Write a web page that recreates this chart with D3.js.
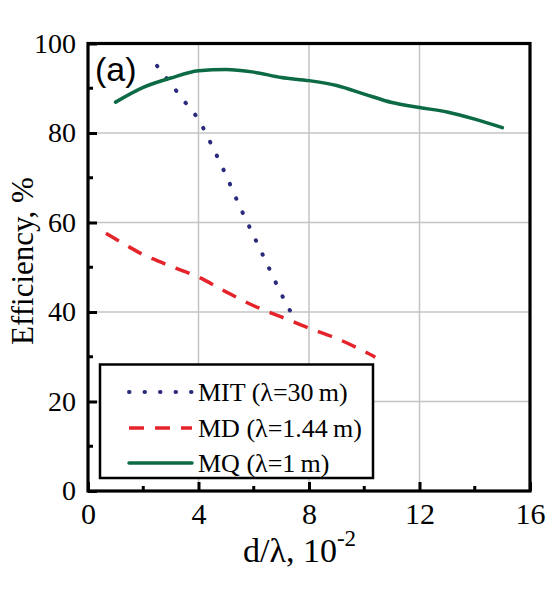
<!DOCTYPE html>
<html><head><meta charset="utf-8">
<script src="https://cdn.jsdelivr.net/npm/d3@7"></script>
<style>html,body{margin:0;padding:0;background:#fff;}</style>
</head><body>
<svg id="c" width="559" height="590"></svg>
<script>
// ---- data ----
const xTicks = [0, 4, 8, 12, 16];
const yTicks = [0, 20, 40, 60, 80, 100];
const xMinor = [2, 6, 10, 14];
const yMinor = [10, 30, 50, 70, 90];

const mitX = [2.5, 3, 3.5, 4, 4.5, 5, 5.5, 6, 6.5, 7, 7.5];
const mitY = [95, 91, 87, 83, 77, 70.5, 63.5, 57, 50.5, 44, 38.2];

const mdX = [0.65, 1, 1.5, 2, 2.5, 3, 4, 5, 6, 7, 8, 9, 10, 10.4];
const mdY = [57.6, 56.3, 54.5, 52.8, 51.5, 50.2, 47.8, 44.5, 41.4, 38.9, 36.4, 34.1, 31.2, 29.9];

const mqX = [1, 2, 3, 4, 5, 6, 7, 8, 9, 10, 11, 12, 13, 14, 15];
const mqY = [86.9, 90.2, 92.3, 93.9, 94.2, 93.6, 92.4, 91.7, 90.6, 88.7, 86.8, 85.7, 84.7, 83.1, 81.2];

const legendLabels = ["MIT (\u03bb=30\u2009m)", "MD (\u03bb=1.44\u2009m)", "MQ (\u03bb=1\u2009m)"];

// ---- drawing ----
const svg = d3.select("#c");
const L = 88, R = 530, T = 43.5, B = 491;
const x = d3.scaleLinear().domain([0, 16]).range([L, R]);
const y = d3.scaleLinear().domain([0, 100]).range([B, T]);
const serif = "'Liberation Serif','Times New Roman',serif";

// grid
const g = svg.append("g");
g.selectAll(".gx").data(xTicks.slice(1, -1)).join("line")
  .attr("x1", d => x(d)).attr("x2", d => x(d)).attr("y1", T).attr("y2", B)
  .attr("stroke", "#c4c4c4").attr("stroke-width", 1.5);
g.selectAll(".gy").data(yTicks.slice(1, -1)).join("line")
  .attr("x1", L).attr("x2", R).attr("y1", d => y(d)).attr("y2", d => y(d))
  .attr("stroke", "#c4c4c4").attr("stroke-width", 1.5);

// series
const mk = (xs, ys) => xs.map((v, i) => [v, ys[i]]);
const line = d3.line().x(d => x(d[0])).y(d => y(d[1])).curve(d3.curveMonotoneX);
const series = [
  {data: mk(mitX, mitY), color: "#2b2b7d", width: 4, dash: "0.5,15", cap: "round"},
  {data: mk(mdX, mdY), color: "#e5232b", width: 3.5, dash: "15,11", cap: "butt"},
  {data: mk(mqX, mqY), color: "#0c6a45", width: 3.5, dash: null, cap: "round"}
];
series.forEach(s => {
  svg.append("path").attr("d", line(s.data)).attr("fill", "none")
    .attr("stroke", s.color).attr("stroke-width", s.width)
    .attr("stroke-dasharray", s.dash).attr("stroke-linecap", s.cap);
});

// axes (bottom & left) with inward ticks
const xAxis = d3.axisBottom(x).tickValues(xTicks).tickSize(-9).tickFormat(d3.format("d"));
const yAxis = d3.axisLeft(y).tickValues(yTicks).tickSize(-9).tickFormat(d3.format("d"));
const xa = svg.append("g").attr("transform", `translate(0,${B})`).call(xAxis);
const ya = svg.append("g").attr("transform", `translate(${L},0)`).call(yAxis);
[xa, ya].forEach(a => {
  a.select(".domain").remove();
  a.selectAll(".tick line").attr("stroke", "#000").attr("stroke-width", 3);
});
xa.selectAll(".tick text").attr("font-family", serif).attr("font-size", 30).attr("fill", "#000").attr("dy", "0.71em").attr("y", 12);
ya.selectAll(".tick text").attr("font-family", serif).attr("font-size", 28).attr("fill", "#000").attr("x", -12);
// minor ticks
svg.selectAll(".mx").data(xMinor).join("line")
  .attr("x1", d => x(d)).attr("x2", d => x(d)).attr("y1", B).attr("y2", B - 5)
  .attr("stroke", "#000").attr("stroke-width", 3);
svg.selectAll(".my").data(yMinor).join("line")
  .attr("x1", L).attr("x2", L + 5).attr("y1", d => y(d)).attr("y2", d => y(d))
  .attr("stroke", "#000").attr("stroke-width", 3);

// frame
svg.append("rect").attr("x", L).attr("y", T).attr("width", R - L).attr("height", B - T)
  .attr("fill", "none").attr("stroke", "#000").attr("stroke-width", 3.2);

// legend
const lg = svg.append("g");
lg.append("rect").attr("x", 100).attr("y", 364.5).attr("width", 273).attr("height", 113.5)
  .attr("fill", "#fff").attr("stroke", "#000").attr("stroke-width", 2.5);
const rowsY = [392, 428, 463];
series.forEach((s, i) => {
  lg.append("line").attr("x1", 129).attr("x2", 192).attr("y1", rowsY[i]).attr("y2", rowsY[i])
    .attr("stroke", s.color).attr("stroke-width", s.width)
    .attr("stroke-dasharray", s.dash).attr("stroke-linecap", s.cap);
  lg.append("text").attr("x", 198).attr("y", rowsY[i] + 9).text(legendLabels[i])
    .attr("font-family", serif).attr("font-size", 26).attr("fill", "#000");
});

// panel label
svg.append("text").attr("x", 95).attr("y", 81).text("(a)")
  .attr("font-family", "'Liberation Sans',Arial,sans-serif").attr("font-size", 34).attr("fill", "#000");

// axis titles
svg.append("text").attr("transform", "translate(33,261) rotate(-90)").attr("text-anchor", "middle")
  .attr("font-family", serif).attr("font-size", 31).attr("fill", "#000").text("Efficiency, %");
const xt = svg.append("text").attr("x", 243).attr("y", 562)
  .attr("font-family", serif).attr("font-size", 34).attr("fill", "#000");
xt.append("tspan").text("d/\u03bb, 10");
xt.append("tspan").attr("font-size", 23).attr("dy", -16).text("-2");
</script>
</body></html>
